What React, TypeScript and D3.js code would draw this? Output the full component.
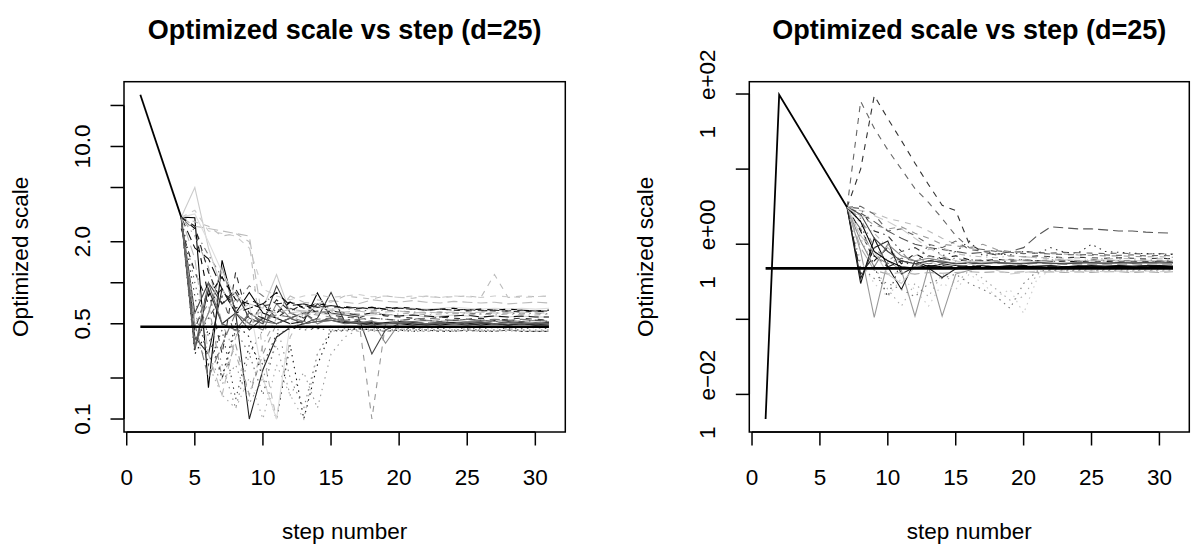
import React from 'react';
import * as d3 from 'd3';

// ---- data ----
const title = 'Optimized scale vs step (d=25)';
const xLabel = 'step number';
const yLabel = 'Optimized scale';
const xTicks = [0, 5, 10, 15, 20, 25, 30];
const lastStep = 31;
const refValue = 0.476; // 2.38 / sqrt(25)

// left panel
const leftLeadSteps = [1, 4];
const leftLeadValues = [24, 3.03];
const leftFirstStep = 4;
const leftYTicks = [0.1, 0.2, 0.5, 1, 2, 5, 10, 20];
const leftYLabels = ['0.1', '', '0.5', '', '2.0', '', '10.0', ''];
const leftRuns: number[][] = [
  [3.03, 3.0, 0.17, 1.46, 0.6, 0.85, 0.6, 0.55, 0.5, 0.52, 0.84, 0.55, 0.52, 0.5, 0.51, 0.5, 0.5, 0.49, 0.5, 0.49, 0.5, 0.5, 0.49, 0.5, 0.49, 0.5, 0.49, 0.49],
  [3.03, 0.45, 0.9, 0.3, 1.2, 0.5, 0.7, 0.55, 0.65, 0.6, 0.62, 0.58, 0.56, 0.55, 0.6, 0.57, 0.56, 0.55, 0.54, 0.56, 0.55, 0.54, 0.55, 0.53, 0.54, 0.55, 0.54, 0.53],
  [3.03, 0.35, 0.6, 0.25, 0.12, 0.3, 0.45, 0.5, 0.2, 0.12, 0.3, 0.45, 0.46, 0.45, 0.46, 0.45, 0.46, 0.45, 0.46, 0.45, 0.45, 0.46, 0.45, 0.45, 0.46, 0.45, 0.45, 0.45],
  [3.03, 2.4, 1.6, 1.1, 0.7, 0.95, 0.8, 0.7, 0.72, 0.68, 0.66, 0.64, 0.65, 0.63, 0.62, 0.63, 0.62, 0.61, 0.6, 0.61, 0.6, 0.6, 0.59, 0.6, 0.6, 0.59, 0.6, 0.59],
  [3.03, 2.6, 2.5, 2.4, 2.3, 2.2, 0.5, 0.6, 0.8, 0.72, 0.7, 0.74, 0.72, 0.7, 0.75, 0.73, 0.72, 0.74, 0.72, 0.71, 0.73, 0.72, 0.71, 0.72, 0.7, 0.71, 0.72, 0.71],
  [3.03, 0.4, 0.3, 0.9, 0.6, 0.1, 0.23, 0.4, 0.47, 0.5, 0.52, 0.53, 0.51, 0.52, 0.5, 0.51, 0.52, 0.51, 0.5, 0.51, 0.51, 0.5, 0.51, 0.5, 0.51, 0.5, 0.5, 0.51],
  [3.03, 5.0, 1.8, 0.9, 0.6, 0.7, 0.65, 1.15, 0.6, 0.62, 0.6, 0.58, 0.6, 0.57, 0.58, 0.59, 0.57, 0.58, 0.56, 0.57, 0.58, 0.57, 0.56, 0.57, 0.56, 0.57, 0.56, 0.56],
  [2.9, 0.5, 0.7, 0.2, 0.35, 0.15, 0.3, 0.5, 0.55, 0.6, 0.58, 0.56, 0.55, 0.57, 0.1, 0.5, 0.52, 0.5, 0.51, 0.52, 0.5, 0.51, 0.52, 0.5, 0.51, 0.5, 0.51, 0.5],
  [3.03, 0.3, 0.45, 0.2, 0.5, 0.4, 0.2, 0.1, 0.35, 0.1, 0.25, 0.44, 0.45, 0.46, 0.45, 0.44, 0.45, 0.44, 0.45, 0.44, 0.44, 0.45, 0.44, 0.44, 0.45, 0.44, 0.44, 0.44],
  [3.03, 0.6, 1.0, 0.7, 0.85, 0.55, 0.5, 0.95, 0.6, 0.55, 0.7, 0.6, 0.58, 0.56, 0.3, 0.45, 0.5, 0.52, 0.5, 0.51, 0.5, 0.52, 0.51, 0.5, 0.52, 0.51, 0.5, 0.51],
  [3.03, 2.8, 2.6, 2.2, 2.3, 2.0, 0.3, 0.1, 0.4, 0.6, 0.75, 0.72, 0.8, 0.78, 0.76, 0.8, 0.78, 0.77, 0.8, 0.78, 0.79, 0.8, 0.78, 1.15, 0.78, 0.8, 0.79, 0.8],
  [3.03, 0.35, 0.6, 1.3, 0.6, 0.5, 0.45, 0.7, 0.55, 0.6, 0.5, 0.55, 0.52, 0.5, 0.53, 0.36, 0.5, 0.52, 0.53, 0.52, 0.53, 0.52, 0.53, 0.52, 0.53, 0.52, 0.53, 0.52],
  [2.5, 1.2, 0.7, 0.9, 0.65, 0.75, 0.68, 0.7, 0.72, 0.65, 0.68, 0.66, 0.67, 0.65, 0.66, 0.64, 0.65, 0.64, 0.63, 0.64, 0.63, 0.62, 0.63, 0.62, 0.62, 0.61, 0.62, 0.61],
  [3.03, 0.4, 0.25, 0.15, 0.12, 0.2, 0.1, 0.25, 0.15, 0.1, 0.3, 0.44, 0.45, 0.44, 0.45, 0.44, 0.45, 0.44, 0.44, 0.45, 0.44, 0.45, 0.44, 0.44, 0.45, 0.44, 0.44, 0.45],
  [3.03, 1.8, 1.5, 0.9, 0.6, 0.65, 0.7, 0.85, 0.68, 0.7, 0.6, 0.62, 0.6, 0.58, 0.6, 0.58, 0.57, 0.58, 0.57, 0.56, 0.57, 0.58, 0.56, 0.57, 0.56, 0.57, 0.56, 0.56],
  [3.03, 2.2, 1.3, 0.5, 0.3, 0.15, 0.35, 0.55, 0.6, 0.58, 0.6, 0.62, 0.6, 0.59, 0.6, 0.58, 0.59, 0.6, 0.58, 0.59, 0.6, 0.58, 0.59, 0.58, 0.59, 0.58, 0.58, 0.59],
  [3.03, 0.32, 0.9, 0.5, 0.6, 0.45, 0.55, 0.5, 0.55, 0.5, 0.55, 0.85, 0.52, 0.5, 0.49, 0.5, 0.51, 0.5, 0.49, 0.5, 0.5, 0.49, 0.5, 0.5, 0.49, 0.5, 0.49, 0.5],
  [3.03, 3.2, 2.0, 1.2, 0.8, 0.7, 0.2, 0.1, 0.5, 0.62, 0.66, 0.64, 0.65, 0.66, 0.64, 0.65, 0.66, 0.65, 0.64, 0.65, 0.66, 0.65, 0.64, 0.65, 0.64, 0.65, 0.64, 0.65],
  [3.03, 0.5, 0.2, 0.35, 0.6, 0.5, 0.55, 0.58, 0.56, 0.52, 0.54, 0.55, 0.53, 0.54, 0.55, 0.54, 0.53, 0.54, 0.55, 0.54, 0.53, 0.54, 0.53, 0.54, 0.53, 0.54, 0.53, 0.53],
  [3.03, 2.5, 0.8, 1.1, 0.75, 0.7, 0.65, 0.6, 0.72, 0.66, 0.7, 0.68, 0.66, 0.65, 0.66, 0.64, 0.66, 0.65, 0.63, 0.64, 0.65, 0.63, 0.64, 0.63, 0.64, 0.63, 0.62, 0.63],
  [3.03, 1.0, 0.4, 0.2, 0.45, 0.3, 0.15, 0.4, 0.47, 0.45, 0.46, 0.45, 0.44, 0.46, 0.45, 0.44, 0.45, 0.46, 0.45, 0.44, 0.45, 0.44, 0.45, 0.44, 0.45, 0.44, 0.44, 0.44],
  [3.03, 3.4, 2.4, 2.3, 2.2, 1.8, 0.9, 0.8, 0.75, 0.8, 0.82, 0.78, 0.8, 0.82, 0.79, 0.8, 0.78, 0.8, 0.79, 0.78, 0.8, 0.79, 0.78, 0.8, 0.79, 0.78, 0.79, 0.8],
  [3.03, 0.38, 0.55, 0.8, 0.4, 0.6, 0.5, 0.65, 0.55, 0.6, 0.52, 0.55, 0.54, 0.53, 0.55, 0.54, 0.53, 0.54, 0.53, 0.52, 0.53, 0.54, 0.53, 0.52, 0.53, 0.52, 0.53, 0.52],
  [3.03, 0.6, 0.3, 0.18, 0.25, 0.13, 0.2, 0.35, 0.15, 0.22, 0.12, 0.3, 0.4, 0.45, 0.44, 0.45, 0.44, 0.45, 0.44, 0.45, 0.44, 0.45, 0.44, 0.45, 0.44, 0.45, 0.44, 0.44],
  [3.03, 2.6, 1.2, 0.7, 0.9, 0.6, 0.55, 0.75, 0.62, 0.7, 0.66, 0.68, 0.65, 0.66, 0.64, 0.66, 0.65, 0.64, 0.63, 0.64, 0.63, 0.64, 0.62, 0.63, 0.62, 0.63, 0.62, 0.62],
  [3.03, 0.33, 1.0, 0.5, 0.45, 0.6, 0.52, 0.5, 0.55, 0.5, 0.52, 0.53, 0.5, 0.51, 0.52, 0.5, 0.51, 0.52, 0.5, 0.51, 0.5, 0.51, 0.52, 0.5, 0.51, 0.5, 0.51, 0.5],
  [3.03, 1.5, 0.3, 0.15, 0.4, 0.55, 0.62, 0.6, 0.64, 0.62, 0.6, 0.63, 0.61, 0.62, 0.6, 0.61, 0.62, 0.6, 0.61, 0.6, 0.61, 0.6, 0.61, 0.6, 0.6, 0.61, 0.6, 0.6],
  [3.03, 0.8, 0.25, 0.45, 0.14, 0.35, 0.25, 0.42, 0.46, 0.47, 0.46, 0.48, 0.47, 0.46, 0.47, 0.46, 0.47, 0.46, 0.47, 0.46, 0.47, 0.46, 0.46, 0.47, 0.46, 0.46, 0.47, 0.46],
];

// right panel
const rightLeadSteps = [1, 2, 7];
const rightLeadValues = [0.0047, 98, 3.1];
const rightFirstStep = 7;
const rightYTicks = [0.01, 0.1, 1, 10, 100];
const rightYLabels = ['1 e\u221202', '', '1 e+00', '', '1 e+02'];
const rightRuns: number[][] = [
  [3.1, 10, 95, 47, 24, 12, 6.2, 3.3, 2.8, 1.0, 0.8, 0.75, 0.7, 0.68, 0.7, 0.68, 0.66, 0.67, 0.66, 0.65, 0.66, 0.65, 0.64, 0.65, 0.64],
  [3.1, 80, 35, 18, 10, 5.5, 3.6, 2.2, 1.3, 0.9, 0.85, 0.8, 0.78, 0.8, 0.78, 0.76, 0.78, 0.77, 0.76, 0.75, 0.76, 0.75, 0.74, 0.75, 0.74],
  [3.1, 0.8, 0.106, 0.6, 0.45, 0.11, 0.5, 0.11, 0.4, 0.45, 0.5, 0.48, 0.5, 0.49, 0.5, 0.49, 0.5, 0.5, 0.49, 0.5, 0.49, 0.5, 0.5, 0.49, 0.5],
  [3.1, 0.3, 1.2, 0.5, 0.25, 0.6, 0.5, 0.55, 0.52, 0.5, 0.51, 0.5, 0.52, 0.5, 0.51, 0.52, 0.5, 0.51, 0.52, 0.51, 0.52, 0.51, 0.52, 0.52, 0.51],
  [3.1, 2.6, 2.0, 1.5, 1.2, 1.0, 0.9, 0.85, 0.8, 0.75, 0.78, 0.72, 0.8, 0.9, 1.3, 1.7, 1.65, 1.6, 1.6, 1.55, 1.5, 1.5, 1.45, 1.42, 1.4],
  [3.1, 3.0, 1.5, 1.3, 0.8, 0.9, 0.7, 0.65, 0.6, 0.62, 0.6, 0.58, 0.6, 0.62, 0.6, 0.59, 0.6, 0.58, 0.62, 0.6, 0.61, 0.6, 0.59, 0.6, 0.6],
  [3.1, 2.8, 2.6, 2.2, 2.0, 1.8, 1.5, 1.2, 1.0, 0.9, 0.8, 0.75, 0.7, 0.68, 0.66, 0.64, 0.62, 0.6, 0.6, 0.58, 0.58, 0.57, 0.58, 0.56, 0.57],
  [3.1, 0.5, 0.35, 0.3, 0.25, 0.2, 0.3, 0.35, 0.4, 0.3, 0.25, 0.2, 0.14, 0.3, 0.44, 0.45, 0.44, 0.45, 0.44, 0.45, 0.44, 0.44, 0.45, 0.44, 0.44],
  [3.1, 0.35, 0.9, 1.1, 0.4, 0.5, 0.48, 0.36, 0.47, 0.5, 0.49, 0.5, 0.49, 0.48, 0.5, 0.49, 0.48, 0.49, 0.5, 0.49, 0.48, 0.49, 0.48, 0.49, 0.48],
  [2.8, 1.6, 0.7, 0.55, 0.65, 0.6, 0.55, 0.58, 0.56, 0.55, 0.57, 0.56, 0.55, 0.54, 0.56, 0.55, 0.54, 0.55, 0.54, 0.55, 0.54, 0.55, 0.54, 0.55, 0.54],
  [3.1, 1.9, 1.4, 0.9, 0.6, 0.7, 0.85, 0.9, 0.75, 0.7, 0.68, 0.66, 0.7, 0.68, 0.66, 0.67, 0.65, 0.66, 0.65, 0.64, 0.65, 0.64, 0.63, 0.64, 0.63],
  [3.1, 1.5, 0.6, 0.9, 0.55, 0.75, 0.6, 0.65, 0.7, 0.62, 0.6, 0.63, 0.6, 0.61, 0.6, 0.59, 0.6, 0.58, 0.6, 0.59, 0.58, 0.59, 0.58, 0.59, 0.58],
  [3.1, 0.6, 0.3, 0.2, 0.35, 0.25, 0.15, 0.3, 0.25, 0.4, 0.3, 0.2, 0.25, 0.12, 0.35, 0.45, 0.46, 0.45, 0.44, 0.45, 0.46, 0.45, 0.44, 0.45, 0.45],
  [3.1, 1.1, 0.5, 1.0, 0.7, 0.6, 0.65, 0.6, 0.55, 0.58, 0.56, 0.57, 0.55, 0.56, 0.57, 0.55, 0.56, 0.57, 0.56, 0.55, 0.56, 0.57, 0.56, 0.55, 0.56],
  [3.1, 0.9, 0.45, 0.4, 0.42, 0.4, 0.42, 0.41, 0.42, 0.43, 0.42, 0.43, 0.42, 0.43, 0.42, 0.43, 0.42, 0.43, 0.42, 0.43, 0.43, 0.42, 0.43, 0.42, 0.43],
  [3.1, 2.0, 0.5, 0.2, 0.6, 0.5, 1.0, 0.7, 0.8, 1.1, 0.7, 0.75, 0.72, 0.8, 0.75, 0.9, 0.78, 0.76, 1.0, 0.8, 0.78, 0.76, 0.75, 0.74, 0.73],
  [3.1, 2.4, 1.8, 1.6, 1.7, 1.4, 1.2, 1.0, 0.95, 0.9, 1.0, 0.85, 0.8, 0.78, 0.76, 0.75, 0.74, 0.72, 0.71, 0.7, 0.7, 0.69, 0.68, 0.68, 0.67],
  [3.1, 0.4, 0.7, 0.5, 0.6, 0.55, 0.5, 0.52, 0.5, 0.52, 0.51, 0.5, 0.51, 0.52, 0.5, 0.51, 0.5, 0.51, 0.5, 0.5, 0.51, 0.5, 0.51, 0.5, 0.5],
  [3.1, 1.3, 0.8, 0.4, 0.3, 0.5, 0.6, 0.5, 0.55, 0.6, 0.58, 0.6, 0.62, 0.6, 0.58, 0.6, 0.62, 0.61, 0.6, 0.62, 0.61, 0.6, 0.61, 0.6, 0.61],
  [3.1, 2.2, 0.9, 0.6, 0.8, 0.5, 0.7, 0.62, 0.65, 0.6, 0.62, 0.6, 0.63, 0.62, 0.6, 0.62, 0.61, 0.6, 0.62, 0.61, 0.6, 0.61, 0.62, 0.6, 0.61],
  [3.1, 2.5, 1.2, 0.8, 0.6, 0.55, 0.6, 0.58, 0.55, 0.56, 0.55, 0.57, 0.56, 0.55, 0.57, 0.56, 0.55, 0.56, 0.57, 0.56, 0.57, 0.56, 0.57, 0.58, 0.57],
  [3.1, 1.2, 0.5, 0.25, 0.15, 0.3, 0.2, 0.4, 0.3, 0.45, 0.35, 0.25, 0.18, 0.2, 0.4, 0.46, 0.45, 0.46, 0.45, 0.46, 0.45, 0.46, 0.45, 0.46, 0.45],
  [3.1, 3.2, 2.5, 1.5, 1.6, 1.3, 1.0, 0.9, 1.1, 0.85, 0.8, 0.82, 0.78, 0.75, 0.76, 0.74, 0.73, 0.72, 0.73, 0.72, 0.71, 0.72, 0.7, 0.71, 0.7],
  [3.1, 2.0, 0.8, 0.6, 0.5, 0.48, 0.52, 0.5, 0.49, 0.5, 0.51, 0.5, 0.5, 0.51, 0.5, 0.49, 0.5, 0.51, 0.5, 0.5, 0.51, 0.5, 0.5, 0.51, 0.5],
  [3.1, 2.3, 2.4, 2.0, 1.6, 1.2, 0.9, 0.7, 0.6, 0.55, 0.5, 0.45, 0.4, 0.42, 0.44, 0.43, 0.44, 0.43, 0.44, 0.43, 0.44, 0.43, 0.44, 0.43, 0.44],
];

// ---- styles ----
const dashes = ['none', '6,6', '1.5,4.5', '1.5,4.5,6,4.5', '10,5'];
const leftGrays = ['#000', '#333', '#888', '#777', '#bbb', '#222', '#ccc', '#999', '#111', '#444', '#bbb',
  '#888', '#222', '#aaa', '#111', '#aaa', '#333', '#ddd', '#777', '#000', '#666', '#ccc',
  '#555', '#999', '#222', '#666', '#bbb', '#444'];
const leftLty = [0, 1, 2, 3, 4, 0, 0, 1, 2, 0, 1, 0, 1, 2, 4, 3, 0, 0, 4, 1, 2, 1, 3, 2, 1, 0, 4, 2];
const rightGrays = ['#333', '#666', '#999', '#111', '#555', '#333', '#bbb', '#777', '#222', '#777',
  '#bbb', '#111', '#ccc', '#888', '#aaa', '#333', '#999', '#222', '#ccc', '#888',
  '#444', '#aaa', '#666', '#000', '#ccc'];
const rightLty = [1, 1, 0, 0, 4, 3, 1, 2, 0, 4, 3, 1, 2, 0, 4, 2, 1, 4, 0, 3, 0, 2, 1, 0, 4];

const font = 'Liberation Sans, Arial, Helvetica, sans-serif';
const fs = 22.5;
const boxTop = 81.7;
const boxBottom = 432;

type PanelProps = {
  x0: number;
  x1: number;
  leadSteps: number[];
  leadValues: number[];
  firstStep: number;
  runs: number[][];
  yTicks: number[];
  yLabels: string[];
  grays: string[];
  lty: number[];
  splitLabels?: boolean;
};

function Panel(p: PanelProps) {
  const x = d3.scaleLinear().domain([1 - 0.04 * 30, lastStep + 0.04 * 30]).range([p.x0, p.x1]);
  const all = p.leadValues.concat(...p.runs);
  const [lo, hi] = d3.extent(all.map(Math.log10)) as [number, number];
  const pad = (hi - lo) * 0.04;
  const y = d3.scaleLog().domain([10 ** (lo - pad), 10 ** (hi + pad)]).range([boxBottom, boxTop]);
  const line = d3.line<[number, number]>().x((d) => x(d[0])).y((d) => y(d[1]));
  const cx = (p.x0 + p.x1) / 2;
  const cy = (boxTop + boxBottom) / 2;
  const tickLen = 13.5;

  return (
    <g fontFamily={font}>
      <text x={cx} y={39} textAnchor="middle" fontWeight="bold" fontSize={27}>{title}</text>
      {p.runs.map((r, i) => (
        <path key={i}
          d={line(r.map((v, k) => [p.firstStep + k, v]))!}
          fill="none" stroke={p.grays[i]} strokeWidth={1.1}
          strokeDasharray={dashes[p.lty[i]]} />
      ))}
      <path d={line(p.leadSteps.map((s, k) => [s, p.leadValues[k]]))!} fill="none" stroke="#000" strokeWidth={1.8} />
      <path d={line([[1, refValue], [lastStep, refValue]])!} fill="none" stroke="#000" strokeWidth={2.6} />
      <rect x={p.x0} y={boxTop} width={p.x1 - p.x0} height={boxBottom - boxTop} fill="none" stroke="#000" strokeWidth={1.5} />
      {xTicks.map((t) => (
        <g key={t}>
          <line x1={x(t)} x2={x(t)} y1={boxBottom} y2={boxBottom + tickLen} stroke="#000" strokeWidth={1.5} />
          <text x={x(t)} y={485} textAnchor="middle" fontSize={fs}>{t}</text>
        </g>
      ))}
      <line x1={x(xTicks[0])} x2={x(xTicks[xTicks.length - 1])} y1={boxBottom} y2={boxBottom} stroke="#000" strokeWidth={1.5} />
      <line x1={p.x0} x2={p.x0} y1={y(p.yTicks[0])} y2={y(p.yTicks[p.yTicks.length - 1])} stroke="#000" strokeWidth={1.5} />
      {p.yTicks.map((t, i) => {
        const lab = p.yLabels[i];
        const parts = p.splitLabels && lab ? lab.split(' ') : null;
        return (
          <g key={t}>
            <line x1={p.x0 - tickLen} x2={p.x0} y1={y(t)} y2={y(t)} stroke="#000" strokeWidth={1.5} />
            {lab && (
              <text transform={`translate(${p.x0 - 34.5},${y(t)}) rotate(-90)`} textAnchor="middle" fontSize={fs}>
                {parts ? (<><tspan>{parts[0]}</tspan><tspan dx={26}>{parts[1]}</tspan></>) : lab}
              </text>
            )}
          </g>
        );
      })}
      <text x={cx} y={539} textAnchor="middle" fontSize={fs}>{xLabel}</text>
      <text transform={`translate(${p.x0 - 96.5},${cy}) rotate(-90)`} textAnchor="middle" fontSize={fs}>{yLabel}</text>
    </g>
  );
}

export default function App() {
  return (
    <svg width={1193} height={555} style={{ position: 'absolute', left: 0, top: 0, background: '#fff' }}>
      <rect width={1193} height={555} fill="#fff" />
      <Panel x0={124} x1={565.3} leadSteps={leftLeadSteps} leadValues={leftLeadValues}
        firstStep={leftFirstStep} runs={leftRuns} yTicks={leftYTicks} yLabels={leftYLabels}
        grays={leftGrays} lty={leftLty} />
      <Panel x0={749.3} x1={1189.3} leadSteps={rightLeadSteps} leadValues={rightLeadValues}
        firstStep={rightFirstStep} runs={rightRuns} yTicks={rightYTicks} yLabels={rightYLabels}
        grays={rightGrays} lty={rightLty} splitLabels />
    </svg>
  );
}
